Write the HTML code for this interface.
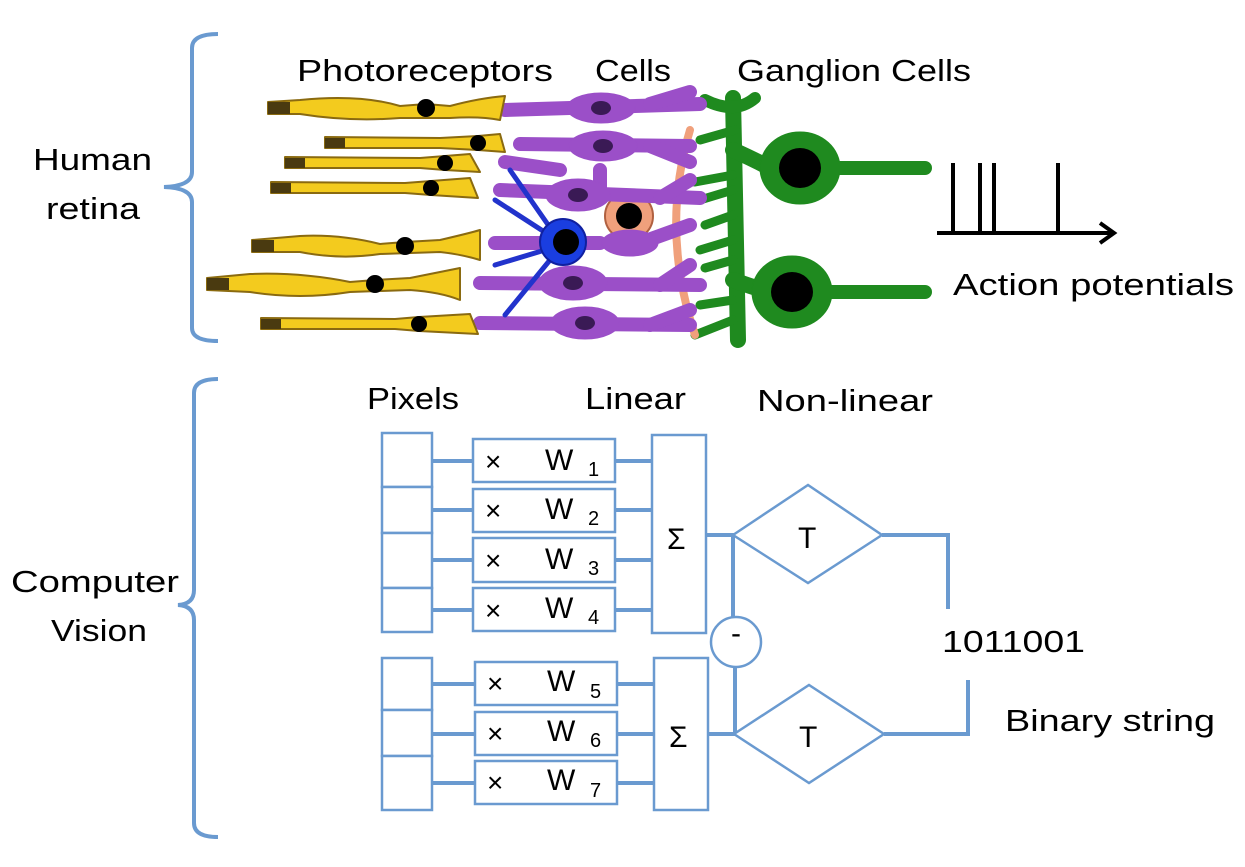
<!DOCTYPE html>
<html><head><meta charset="utf-8"><style>
html,body{margin:0;padding:0;background:#fff;}
svg{display:block;}
text{font-family:"Liberation Sans",sans-serif;fill:#000;}
</style></head><body>
<svg width="1245" height="867" viewBox="0 0 1245 867" xmlns="http://www.w3.org/2000/svg">
<g fill="none" stroke="#6a9ad0" stroke-width="4">
<path d="M218,34 Q192,34 192,48 L192,172 Q192,186 164,187 Q192,188 192,202 L192,328 Q192,341 218,341"/>
<path d="M218,379 Q194,379 194,393 L194,590 Q194,604 178,605 Q194,606 194,620 L194,823 Q194,837 218,837"/>
</g>
<g font-size="31">
<text x="33" y="170" textLength="119" lengthAdjust="spacingAndGlyphs">Human</text>
<text x="46" y="219" textLength="94" lengthAdjust="spacingAndGlyphs">retina</text>
<text x="297" y="81" textLength="256" lengthAdjust="spacingAndGlyphs">Photoreceptors</text>
<text x="595" y="81" textLength="76" lengthAdjust="spacingAndGlyphs">Cells</text>
<text x="737" y="81" textLength="234" lengthAdjust="spacingAndGlyphs">Ganglion Cells</text>
<text x="953" y="295" textLength="281" lengthAdjust="spacingAndGlyphs">Action potentials</text>
<text x="11" y="592" textLength="168" lengthAdjust="spacingAndGlyphs">Computer</text>
<text x="51" y="641" textLength="96" lengthAdjust="spacingAndGlyphs">Vision</text>
<text x="367" y="409" textLength="92" lengthAdjust="spacingAndGlyphs">Pixels</text>
<text x="585" y="409" textLength="101" lengthAdjust="spacingAndGlyphs">Linear</text>
<text x="757" y="411" textLength="176" lengthAdjust="spacingAndGlyphs">Non-linear</text>
<text x="942" y="652" textLength="143" lengthAdjust="spacingAndGlyphs">1011001</text>
<text x="1005" y="731" textLength="210" lengthAdjust="spacingAndGlyphs">Binary string</text>
</g>
<g stroke="#000" stroke-width="4" fill="none">
<path d="M937,233 L1113,233 M1100,223 L1114,233 L1100,243"/>
<path d="M953,163 V233 M980,163 V233 M994,163 V233 M1058,163 V233"/>
</g>
<g stroke-linejoin="round" stroke-linecap="round">
<g fill="#1f8a1f" stroke="#1f8a1f">
<path d="M733,98 L738,340" stroke-width="16" fill="none"/>
<path d="M705,100 Q735,115 755,98" stroke-width="12" fill="none"/>
<path d="M733,150 Q755,160 770,168 M733,280 Q755,288 770,292" stroke-width="16" fill="none"/>
<path d="M733,190 L700,200 M733,215 L705,225 M733,240 L700,250 M733,260 L705,268 M733,320 L695,335 M735,130 L700,140 M733,175 L695,182 M733,300 L700,305" stroke-width="9" fill="none"/>
<ellipse cx="800" cy="168" rx="40" ry="36"/>
<ellipse cx="792" cy="292" rx="40" ry="36"/>
<path d="M820,168 L925,168 M815,292 L925,292" stroke-width="14" fill="none"/>
</g>
<g fill="#000"><ellipse cx="800" cy="168" rx="21" ry="20"/><ellipse cx="792" cy="292" rx="21" ry="20"/></g>
<path d="M690,130 Q660,230 695,335" stroke-width="8" stroke="#f0a07c" fill="none"/>
<circle cx="629" cy="216" r="24" fill="#f0a07c" stroke="#b06040" stroke-width="2"/>
<circle cx="629" cy="216" r="13" fill="#000"/>
<g fill="#9b4fc8" stroke="#9b4fc8">
<g stroke-width="14" fill="none">
<path d="M505,110 L700,104 M520,144 L690,146 M505,162 L560,170 M500,190 L700,198 M495,243 L600,243 M480,283 L700,285 M480,323 L690,325"/>
<path d="M650,104 L690,92 M650,146 L690,162 M660,198 L690,180 M640,243 L690,225 M660,285 L690,265 M650,325 L690,310 M600,195 L600,170"/>
</g>
<ellipse cx="601" cy="108" rx="34" ry="15"/><ellipse cx="603" cy="146" rx="34" ry="15"/>
<ellipse cx="578" cy="195" rx="32" ry="16"/><ellipse cx="573" cy="283" rx="34" ry="17"/>
<ellipse cx="585" cy="323" rx="34" ry="16"/><ellipse cx="630" cy="243" rx="28" ry="13"/>
</g>
<g fill="#3a1a55"><ellipse cx="601" cy="108" rx="10" ry="7"/><ellipse cx="603" cy="146" rx="10" ry="7"/><ellipse cx="578" cy="195" rx="10" ry="7"/><ellipse cx="573" cy="283" rx="10" ry="7"/><ellipse cx="585" cy="323" rx="10" ry="7"/></g>
<g stroke="#2233cc" stroke-width="5" fill="none"><path d="M560,242 L495,200 M545,250 L495,265 M560,242 L510,170 M550,260 L505,315"/></g>
<circle cx="563" cy="242" r="23" fill="#1a3ee0" stroke="#1020a0" stroke-width="2"/>
<circle cx="566" cy="242" r="13" fill="#000"/>
<g fill="#f3cb1e" stroke="#8a6a10" stroke-width="2">
<path d="M268,102 L300,100 Q360,94 400,106 L426,104 L450,106 Q480,98 505,96 L500,120 Q480,116 450,118 L400,118 Q350,122 300,114 L268,114 Z"/>
<path d="M325,137 L440,138 L478,136 L500,134 L505,152 L478,150 L440,148 L325,148 Z"/>
<path d="M285,157 L420,158 L445,156 L470,154 L480,172 L445,170 L420,168 L285,168 Z"/>
<path d="M271,182 L405,183 L431,181 L470,178 L478,198 L431,195 L405,193 L271,193 Z"/>
<path d="M252,240 L300,236 Q340,234 380,244 L405,242 L440,240 Q470,233 480,230 L480,260 Q460,254 440,252 L380,254 Q340,260 300,252 L252,252 Z"/>
<path d="M207,278 L250,274 Q300,272 350,282 L375,280 L410,278 Q440,272 460,268 L460,300 Q440,292 410,290 L350,292 Q300,300 250,292 L207,290 Z"/>
<path d="M261,318 L395,319 L419,317 L470,314 L478,334 L419,331 L395,329 L261,329 Z"/>
</g>
<g fill="#000"><circle cx="426" cy="108" r="9"/><circle cx="478" cy="143" r="8"/><circle cx="445" cy="163" r="8"/><circle cx="431" cy="188" r="8"/><circle cx="405" cy="246" r="9"/><circle cx="375" cy="284" r="9"/><circle cx="419" cy="324" r="8"/>
<rect x="268" y="102" width="22" height="12" fill="#4a3a10"/><rect x="325" y="138" width="20" height="10" fill="#4a3a10"/><rect x="285" y="158" width="20" height="10" fill="#4a3a10"/><rect x="271" y="183" width="20" height="10" fill="#4a3a10"/><rect x="252" y="240" width="22" height="12" fill="#4a3a10"/><rect x="207" y="278" width="22" height="12" fill="#4a3a10"/><rect x="261" y="319" width="20" height="10" fill="#4a3a10"/></g>
</g>
<g fill="#fff" stroke="#6a9ad0" stroke-width="2.5">
<rect x="382" y="433" width="50" height="54"/><rect x="382" y="487" width="50" height="46"/><rect x="382" y="533" width="50" height="55"/><rect x="382" y="588" width="50" height="44"/>
<rect x="382" y="658" width="50" height="52"/><rect x="382" y="710" width="50" height="46"/><rect x="382" y="756" width="50" height="54"/>
</g>
<g stroke="#6a9ad0" stroke-width="4" fill="none">
<path d="M432,461 H473 M432,510 H473 M432,560 H473 M432,610 H473 M432,684 H475 M432,734 H475 M432,783 H475"/>
<path d="M615,461 H652 M615,510 H652 M615,560 H652 M615,610 H652 M617,684 H654 M617,734 H654 M617,783 H654"/>
<path d="M706,535 H735 M733,535 V617 M735,667 V734 M708,734 H735"/>
<path d="M882,535 H948 V609 M884,734 H968 V680"/>
</g>
<g fill="#fff" stroke="#6a9ad0" stroke-width="2.5">
<rect x="473" y="439" width="142" height="43"/><rect x="473" y="489" width="142" height="43"/><rect x="473" y="538" width="142" height="44"/><rect x="473" y="588" width="142" height="43"/>
<rect x="475" y="662" width="142" height="43"/><rect x="475" y="712" width="142" height="43"/><rect x="475" y="761" width="142" height="43"/>
<rect x="652" y="435" width="54" height="198"/><rect x="654" y="658" width="54" height="152"/>
<polygon points="733,535 808,485 882,535 808,583"/><polygon points="734,734 809,685 884,734 809,783"/>
<ellipse cx="736" cy="642" rx="25" ry="25"/>
</g>
<g font-size="30">
<g font-size="28"><text x="485" y="471">×</text><text x="485" y="520">×</text><text x="485" y="570">×</text><text x="485" y="620">×</text><text x="487" y="693">×</text><text x="487" y="743">×</text><text x="487" y="792">×</text></g>
<text x="545" y="470">W</text><text x="545" y="519">W</text><text x="545" y="569">W</text><text x="545" y="618">W</text><text x="547" y="691">W</text><text x="547" y="741">W</text><text x="547" y="790">W</text>
<g font-size="20"><text x="588" y="476">1</text><text x="588" y="525">2</text><text x="588" y="575">3</text><text x="588" y="624">4</text><text x="590" y="698">5</text><text x="590" y="747">6</text><text x="590" y="797">7</text></g>
<text x="667" y="549">Σ</text><text x="669" y="747">Σ</text>
<text x="798" y="548">T</text><text x="799" y="747">T</text>
<text x="731" y="643">-</text>
</g>
</svg>
</body></html>
